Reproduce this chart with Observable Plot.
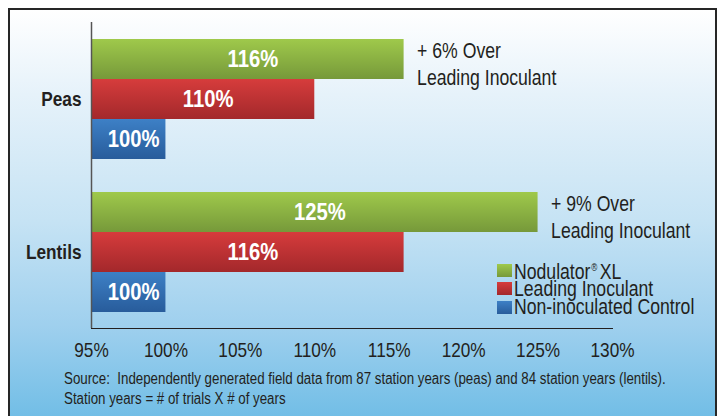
<!DOCTYPE html>
<html><head><meta charset="utf-8">
<script src="https://cdn.jsdelivr.net/npm/d3@7"></script>
<script src="https://cdn.jsdelivr.net/npm/@observablehq/plot@0.6"></script>
<style>
body{margin:0;background:#fff;}
#wrap{position:relative;width:720px;height:416px;overflow:hidden;font-family:"Liberation Sans",Arial,sans-serif;color:#231f20;}
#panel{position:absolute;left:8px;top:8px;width:705px;height:420px;border:2px solid #262626;
 background:linear-gradient(to bottom,#ffffff 0%,#e6f2fa 20%,#c6e3f4 50%,#9fd0ee 75%,#6bbbe5 100%);}
#chart{position:absolute;left:0;top:0;}
#caption{position:absolute;left:64px;top:369px;font-size:16px;line-height:20px;}
#caption div{white-space:pre;transform:scaleX(0.832);transform-origin:0 50%;}
#legend{position:absolute;left:497px;top:261px;font-size:21.5px;line-height:18.5px;}
#legend .row{display:flex;align-items:center;height:18.5px;white-space:nowrap;}
#legend .sw{width:15px;height:13px;margin-right:2px;flex:none;}
#legend span{display:inline-block;transform:scaleX(0.82);transform-origin:0 50%;}
#legend sup{font-size:10px;vertical-align:8px;margin:0 3px 0 1px;}
</style></head>
<body>
<div id="wrap">
 <div id="panel"></div>
 <div id="chart"></div>
 <div id="legend"></div>
 <div id="caption"></div>
</div>
<script>
const crops = ["Peas", "Lentils"];
const series = ["Nodulator® XL", "Leading Inoculant", "Non-inoculated Control"];
const nodulator = [116, 125];
const leading = [110, 116];
const control = [100, 100];
const xDomain = [95, 130];
const xTicks = [95, 100, 105, 110, 115, 120, 125, 130];
const colorTop = ["#9fc94b", "#d63c3c", "#3d80c6"];
const colorBottom = ["#76993a", "#a3282b", "#285c9b"];
const captionLines = [
  "Source:  Independently generated field data from 87 station years (peas) and 84 station years (lentils).",
  "Station years = # of trials X # of years"
];
const FONT = '"Liberation Sans",Arial,sans-serif';

const rows = [];
crops.forEach((c, i) => {
  const vals = [nodulator[i], leading[i], control[i]];
  series.forEach((s, j) => rows.push({crop: c, series: s, value: vals[j], lead: leading[i]}));
});
const gradIds = series.map((s, j) => "grad" + j);

const plot = Plot.plot({
  width: 720, height: 366,
  marginLeft: 91, marginRight: 108, marginTop: 22, marginBottom: 38,
  style: {background: "transparent", fontFamily: FONT, fontSize: "21px", color: "#231f20", overflow: "visible"},
  x: {domain: xDomain, ticks: xTicks, tickFormat: d => d + "%", tickSize: 0, tickPadding: 14, line: true, label: null},
  y: {domain: series, axis: null, paddingInner: 0, paddingOuter: 0.4125},
  fy: {domain: crops, paddingInner: 0, paddingOuter: 0, label: null, tickSize: 0, tickPadding: 10},
  color: {domain: series, range: gradIds.map(id => `url(#${id})`)},
  facet: {data: rows, y: "crop"},
  marks: [
    Plot.barX(rows, {x1: () => xDomain[0], x2: "value", y: "series", fill: "series"}),
    Plot.ruleX([xDomain[0]], {stroke: "#555", strokeWidth: 1.5}),
    Plot.text(rows, {x: d => (xDomain[0] + d.value) / 2, y: "series", text: d => d.value + "%",
      fill: "white", fontWeight: "bold", fontSize: 23, dx: 5}),
    Plot.text(rows, {filter: d => d.series === series[0], x: "value", y: "series",
      text: d => `+ ${d.value - d.lead}% Over\nLeading Inoculant`,
      textAnchor: "start", dx: 13, dy: 3, lineHeight: 1.25, fontSize: 21.5, fill: "#231f20"})
  ]
});
const svg = d3.select(plot);
const defs = svg.insert("defs", ":first-child");
gradIds.forEach((id, j) => {
  const g = defs.append("linearGradient").attr("id", id).attr("x1", 0).attr("y1", 0).attr("x2", 0).attr("y2", 1);
  g.append("stop").attr("offset", "0%").attr("stop-color", colorTop[j]);
  g.append("stop").attr("offset", "100%").attr("stop-color", colorBottom[j]);
});
svg.selectAll('[aria-label^="fy-axis"] text').attr("font-weight", "bold").attr("font-size", 21);
svg.selectAll('[aria-label^="fy-axis"]').attr("font-weight", "bold");
svg.selectAll('[aria-label="x-axis line"], [aria-label="x-axis"] path.domain, [aria-label="x-axis"] .domain')
  .attr("stroke", "#555").attr("stroke-width", 1.5);
document.getElementById("chart").appendChild(plot);

// condense glyphs (narrow typeface look)
svg.selectAll("text").each(function() {
  const t = d3.select(this);
  const fill = (t.attr("fill") || (this.parentNode && this.parentNode.getAttribute("fill")) || "");
  const k = fill === "white" ? 0.88 : 0.82;
  const spans = t.selectAll("tspan");
  const targets = spans.empty() ? [this] : spans.nodes();
  targets.forEach(el => {
    const len = el.getComputedTextLength();
    if (len > 0) {
      el.setAttribute("textLength", len * k);
      el.setAttribute("lengthAdjust", "spacingAndGlyphs");
    }
  });
});

const legend = document.getElementById("legend");
series.forEach((s, j) => {
  const row = document.createElement("div");
  row.className = "row";
  const sw = document.createElement("div");
  sw.className = "sw";
  sw.style.background = `linear-gradient(to bottom, ${colorTop[j]}, ${colorBottom[j]})`;
  const t = document.createElement("span");
  t.innerHTML = s.replace("® ", "<sup>®</sup>");
  row.appendChild(sw); row.appendChild(t);
  legend.appendChild(row);
});
const cap = document.getElementById("caption");
captionLines.forEach(l => { const d = document.createElement("div"); d.textContent = l; cap.appendChild(d); });
</script>
</body></html>
